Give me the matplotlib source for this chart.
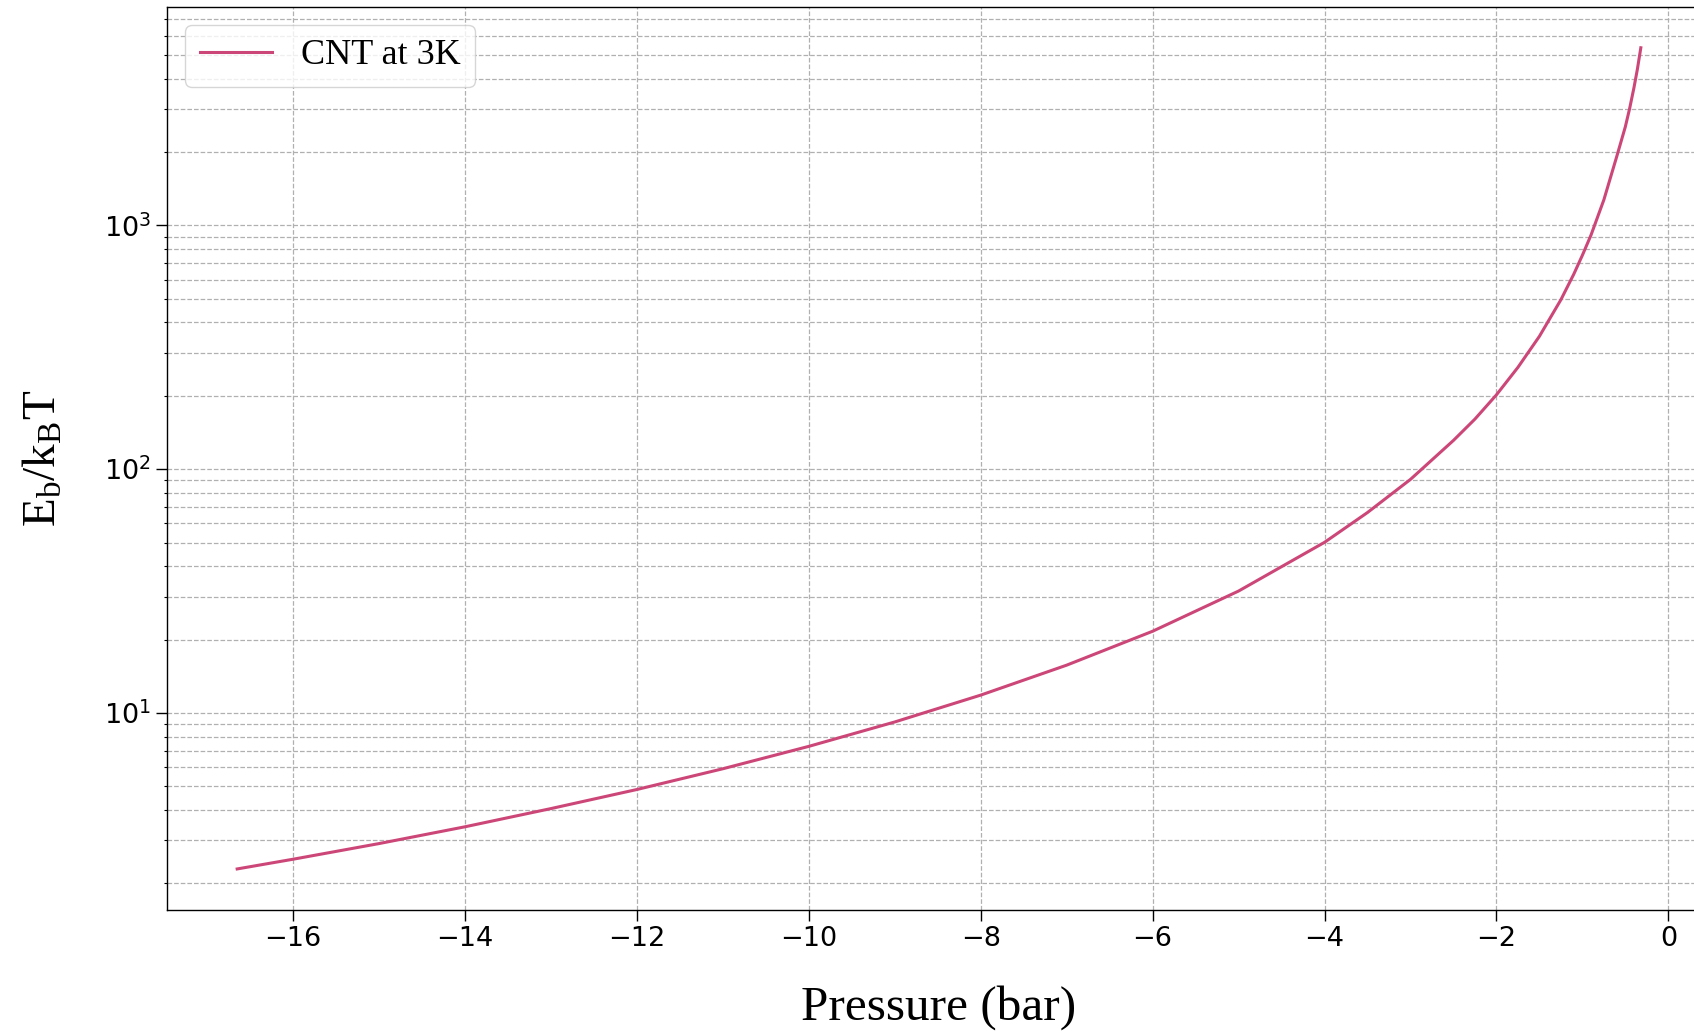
import matplotlib
matplotlib.use("Agg")
import matplotlib.pyplot as plt
from matplotlib.ticker import LogLocator, NullFormatter

# Data (pressure in bar, barrier E_b/k_BT)
pressure = [-16.65, -16.0, -15.0, -14.0, -13.0, -12.0, -11.0, -10.0, -9.0, -8.0,
            -7.0, -6.0, -5.0, -4.0, -3.5, -3.0, -2.5, -2.25, -2.0, -1.75, -1.5,
            -1.25, -1.1, -1.0, -0.9, -0.75, -0.6, -0.5, -0.45, -0.4, -0.36, -0.32]
barrier = [2.29, 2.51, 2.91, 3.41, 4.05, 4.85, 5.90, 7.29, 9.18, 11.83,
           15.70, 21.63, 31.62, 50.1, 66.4, 90.8, 131.2, 160.5, 201.8, 261.6, 350.8,
           495.5, 631.0, 754.3, 912.0, 1273.5, 1918.6, 2541.0, 3020.0, 3672.0, 4375.0, 5358.0]
series_label = "CNT at 3K"
x_label = "Pressure (bar)"
y_label = r"$\mathregular{E_b/k_BT}$"

W, H = 1694, 1031
fig = plt.figure(figsize=(W / 100, H / 100), dpi=100)
left_px, top_px, bottom_px = 167, 6.7, 910
ax = fig.add_axes([left_px / W, 1 - bottom_px / H, 1544 / W, (bottom_px - top_px) / H])

ax.plot(pressure, barrier, color="#cc4778", lw=2.2, label=series_label)
ax.set_yscale("log")

ax.yaxis.set_minor_locator(LogLocator(base=10, subs=range(2, 10)))
ax.yaxis.set_minor_formatter(NullFormatter())
ax.grid(True, which="major", axis="both", linestyle="--", color="#b0b0b0", lw=0.9)
ax.grid(True, which="minor", axis="y", linestyle="--", color="#b0b0b0", lw=0.9)

ax.tick_params(axis="both", which="major", labelsize=19.5, length=8, width=1.0)
ax.tick_params(axis="y", which="minor", length=2.5, width=0.8)
for s in ax.spines.values():
    s.set_linewidth(1.0)

serif = ["Liberation Serif", "DejaVu Serif"]
ax.set_xlabel(x_label, fontsize=35.5, family=serif, labelpad=24)
ax.set_ylabel(y_label, fontsize=34, family=serif, labelpad=27.5)

leg = ax.legend(loc="upper left", prop={"family": serif, "size": 26},
                borderaxespad=0.5, handlelength=2.0)

fig.savefig("out.png", dpi=100)
